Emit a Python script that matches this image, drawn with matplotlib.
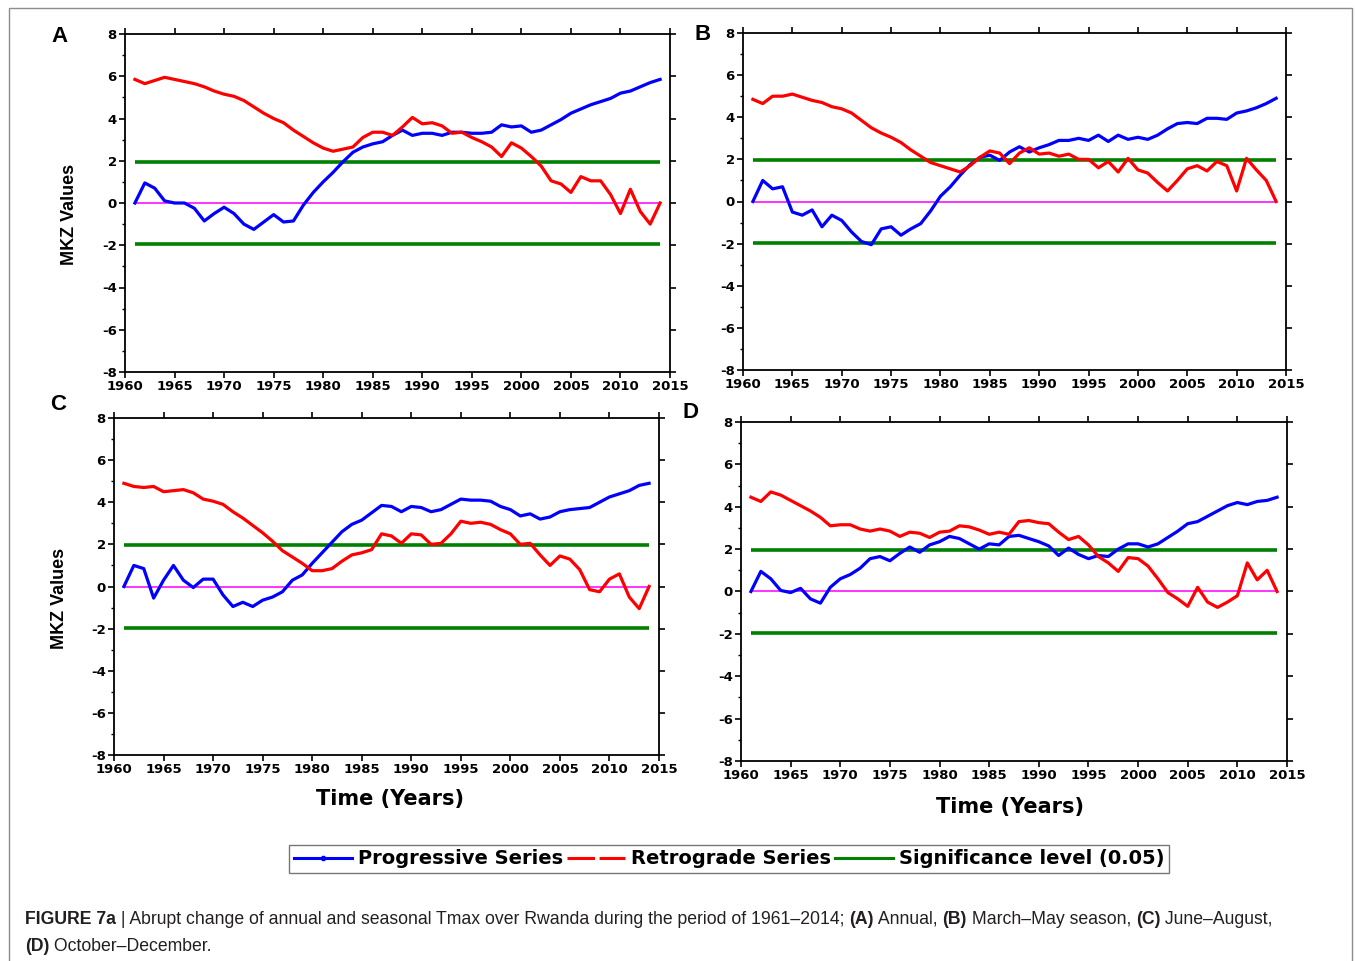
import numpy as np
import matplotlib
matplotlib.use('Agg')
import matplotlib.pyplot as plt
from matplotlib.lines import Line2D
from matplotlib.patches import Rectangle

plt.rcParams['axes.unicode_minus'] = False

# years of the Mann-Kendall sequential test (1961-2014)
years = np.arange(1961, 2015)

# (A) annual
a_prog = [0.0, 0.95, 0.7, 0.1, 0.0, 0.0, -0.25, -0.85, -0.5, -0.2,
          -0.5, -1.0, -1.25, -0.9, -0.55, -0.9, -0.85, -0.1, 0.5, 1.0,
          1.45, 1.95, 2.4, 2.65, 2.8, 2.9, 3.2, 3.45, 3.2, 3.3,
          3.3, 3.2, 3.35, 3.35, 3.3, 3.3, 3.35, 3.7, 3.6, 3.65,
          3.35, 3.45, 3.7, 3.95, 4.25, 4.45, 4.65, 4.8, 4.95, 5.2,
          5.3, 5.5, 5.7, 5.85]
a_retro = [5.85, 5.65, 5.8, 5.95, 5.85, 5.75, 5.65, 5.5, 5.3, 5.15,
           5.05, 4.85, 4.55, 4.25, 4.0, 3.8, 3.45, 3.15, 2.85, 2.6,
           2.45, 2.55, 2.65, 3.1, 3.35, 3.35, 3.2, 3.6, 4.05, 3.75,
           3.8, 3.65, 3.3, 3.35, 3.1, 2.9, 2.65, 2.2, 2.85, 2.6,
           2.2, 1.75, 1.05, 0.9, 0.5, 1.25, 1.05, 1.05, 0.4, -0.5,
           0.65, -0.4, -1.0, 0.0]

# (B) March-May
b_prog = [0.0, 1.0, 0.6, 0.7, -0.5, -0.65, -0.4, -1.2, -0.65, -0.9,
          -1.45, -1.9, -2.05, -1.3, -1.2, -1.6, -1.3, -1.05, -0.45, 0.25,
          0.7, 1.25, 1.75, 2.1, 2.2, 1.95, 2.35, 2.6, 2.35, 2.55,
          2.7, 2.9, 2.9, 3.0, 2.9, 3.15, 2.85, 3.15, 2.95, 3.05,
          2.95, 3.15, 3.45, 3.7, 3.75, 3.7, 3.95, 3.95, 3.9, 4.2,
          4.3, 4.45, 4.65, 4.9]
b_retro = [4.85, 4.65, 5.0, 5.0, 5.1, 4.95, 4.8, 4.7, 4.5, 4.4,
           4.2, 3.85, 3.5, 3.25, 3.05, 2.8, 2.45, 2.15, 1.85, 1.7,
           1.55, 1.4, 1.7, 2.1, 2.4, 2.3, 1.8, 2.3, 2.55, 2.25,
           2.3, 2.15, 2.25, 2.0, 2.0, 1.6, 1.9, 1.4, 2.05, 1.5,
           1.35, 0.9, 0.5, 1.0, 1.55, 1.7, 1.45, 1.9, 1.7, 0.5,
           2.05, 1.5, 1.0, 0.0]

# (C) June-August
c_prog = [0.0, 1.0, 0.85, -0.55, 0.3, 1.0, 0.3, -0.05, 0.35, 0.35,
          -0.4, -0.95, -0.75, -0.95, -0.65, -0.5, -0.25, 0.3, 0.55, 1.1,
          1.6, 2.1, 2.6, 2.95, 3.15, 3.5, 3.85, 3.8, 3.55, 3.8,
          3.75, 3.55, 3.65, 3.9, 4.15, 4.1, 4.1, 4.05, 3.8, 3.65,
          3.35, 3.45, 3.2, 3.3, 3.55, 3.65, 3.7, 3.75, 4.0, 4.25,
          4.4, 4.55, 4.8, 4.9]
c_retro = [4.9, 4.75, 4.7, 4.75, 4.5, 4.55, 4.6, 4.45, 4.15, 4.05,
           3.9, 3.55, 3.25, 2.9, 2.55, 2.15, 1.7, 1.4, 1.1, 0.75,
           0.75, 0.85, 1.2, 1.5, 1.6, 1.75, 2.5, 2.4, 2.05, 2.5,
           2.45, 2.0, 2.05, 2.5, 3.1, 3.0, 3.05, 2.95, 2.7, 2.5,
           2.0, 2.05, 1.5, 1.0, 1.45, 1.3, 0.8, -0.15, -0.25, 0.35,
           0.6, -0.5, -1.05, 0.0]

# (D) October-December
d_prog = [0.0, 0.95, 0.6, 0.05, -0.05, 0.15, -0.35, -0.55, 0.2, 0.6,
          0.8, 1.1, 1.55, 1.65, 1.45, 1.8, 2.1, 1.85, 2.2, 2.35,
          2.6, 2.5, 2.25, 2.0, 2.25, 2.2, 2.6, 2.65, 2.5, 2.35,
          2.15, 1.7, 2.05, 1.75, 1.55, 1.7, 1.65, 2.0, 2.25, 2.25,
          2.1, 2.25, 2.55, 2.85, 3.2, 3.3, 3.55, 3.8, 4.05, 4.2,
          4.1, 4.25, 4.3, 4.45]
d_retro = [4.45, 4.25, 4.7, 4.55, 4.3, 4.05, 3.8, 3.5, 3.1, 3.15,
           3.15, 2.95, 2.85, 2.95, 2.85, 2.6, 2.8, 2.75, 2.55, 2.8,
           2.85, 3.1, 3.05, 2.9, 2.7, 2.8, 2.7, 3.3, 3.35, 3.25,
           3.2, 2.8, 2.45, 2.6, 2.2, 1.65, 1.35, 0.95, 1.6, 1.55,
           1.2, 0.6, -0.05, -0.35, -0.7, 0.2, -0.5, -0.75, -0.5, -0.2,
           1.35, 0.55, 1.0, 0.0]

sig_level = 1.96
x_ticks = np.arange(1960, 2016, 5)
y_ticks = np.arange(-8, 9, 2)

panel_letters = ['A', 'B', 'C', 'D']
panel_data = [(a_prog, a_retro), (b_prog, b_retro), (c_prog, c_retro), (d_prog, d_retro)]

W, H = 1355, 961
fig = plt.figure(figsize=(W / 100, H / 100), dpi=100)

# axes boxes in pixels: left, top, right, bottom
boxes = [(125, 34, 670, 372), (743, 33, 1286, 370),
         (114, 418, 659, 755), (741, 422, 1287, 761)]

BLUE = '#0000ff'
RED = '#ff0000'
GREEN = '#008000'
MAGENTA = '#ff33ff'

for (l, t, r, b), (prog, retro) in zip(boxes, panel_data):
    ax = fig.add_axes([l / W, 1 - b / H, (r - l) / W, (b - t) / H])
    ax.hlines([sig_level, -sig_level], years[0], years[-1], color=GREEN, lw=2.6, zorder=2)
    ax.hlines(0, years[0], years[-1], color=MAGENTA, lw=1.4, zorder=2)
    ax.plot(years, prog, color=BLUE, lw=2.3, zorder=3)
    ax.plot(years, retro, color=RED, lw=2.3, zorder=3)
    ax.set_xlim(1960, 2015)
    ax.set_ylim(-8, 8)
    ax.set_xticks(x_ticks)
    ax.set_yticks(y_ticks)
    ax.set_yticks(np.arange(-7, 8, 2), minor=True)
    ax.tick_params(axis='both', which='major', direction='out', length=4, width=1.2,
                   labelsize=9.5, pad=2)
    ax.tick_params(axis='y', which='minor', direction='out', length=2.5, width=1.0)
    ax.tick_params(top=True, right=True, which='major')
    for lab in ax.get_xticklabels() + ax.get_yticklabels():
        lab.set_fontweight('bold')
        lab.set_family('DejaVu Sans')
    for sp in ax.spines.values():
        sp.set_linewidth(1.3)

# panel letters
letter_pos = [(60, 37), (703, 35), (58, 405), (691, 413)]
for letter, (px, py) in zip(panel_letters, letter_pos):
    fig.text(px / W, 1 - py / H, letter, fontsize=16, fontweight='bold',
             family='Liberation Sans', ha='center', va='center')

# y labels on left panels
fig.text(70 / W, 1 - 214 / H, 'MKZ Values', rotation=90, fontsize=13, fontweight='bold',
         family='Liberation Sans', ha='center', va='center')
fig.text(59 / W, 1 - 598 / H, 'MKZ Values', rotation=90, fontsize=13, fontweight='bold',
         family='Liberation Sans', ha='center', va='center')

# x labels on bottom panels
fig.text(390 / W, 1 - 799 / H, 'Time (Years)', fontsize=15, fontweight='bold',
         family='DejaVu Sans', ha='center', va='center')
fig.text(1010 / W, 1 - 807 / H, 'Time (Years)', fontsize=15, fontweight='bold',
         family='DejaVu Sans', ha='center', va='center')

# shared legend
handles = [Line2D([], [], color=BLUE, lw=2.2, marker='o', markersize=3),
           Line2D([], [], color=RED, lw=2.2, linestyle=(0, (9, 1.5))),
           Line2D([], [], color=GREEN, lw=2.2)]
labels = ['Progressive Series', 'Retrograde Series', 'Significance level (0.05)']
leg = fig.legend(handles, labels, loc='center', bbox_to_anchor=(729 / W, 1 - 859 / H),
                 ncol=3, frameon=True, fancybox=False, handlelength=3.0,
                 handletextpad=0.3, columnspacing=0.2, borderpad=0.25,
                 prop={'family': 'DejaVu Sans', 'weight': 'bold', 'size': 14})
leg.get_frame().set_edgecolor('#555555')
leg.get_frame().set_linewidth(1.0)

# caption with bold pieces
renderer = fig.canvas.get_renderer()


def rich_line(x_px, y_px, parts, size=12.7):
    x = x_px / W
    for txt, weight in parts:
        t = fig.text(x, 1 - y_px / H, txt, fontsize=size, fontweight=weight,
                     family='Liberation Sans', ha='left', va='baseline', color='#231f20')
        x += t.get_window_extent(renderer).width / W


rich_line(25, 924, [('FIGURE 7a', 'bold'), (' | Abrupt change of annual and seasonal Tmax over Rwanda '
                                              'during the period of 1961\u20132014; ', 'normal'),
                    ('(A)', 'bold'), (' Annual, ', 'normal'), ('(B)', 'bold'),
                    (' March\u2013May season, ', 'normal'), ('(C)', 'bold'),
                    (' June\u2013August,', 'normal')])
rich_line(25, 951, [('(D)', 'bold'), (' October\u2013December.', 'normal')])

# thin frame around the whole figure
fig.patches.append(Rectangle((9 / W, -0.01), (1352 - 9) / W, 1 - 8 / H + 0.01,
                             transform=fig.transFigure, fill=False,
                             edgecolor='#8c8c8c', lw=1.0))

fig.savefig('out.png', dpi=100)
